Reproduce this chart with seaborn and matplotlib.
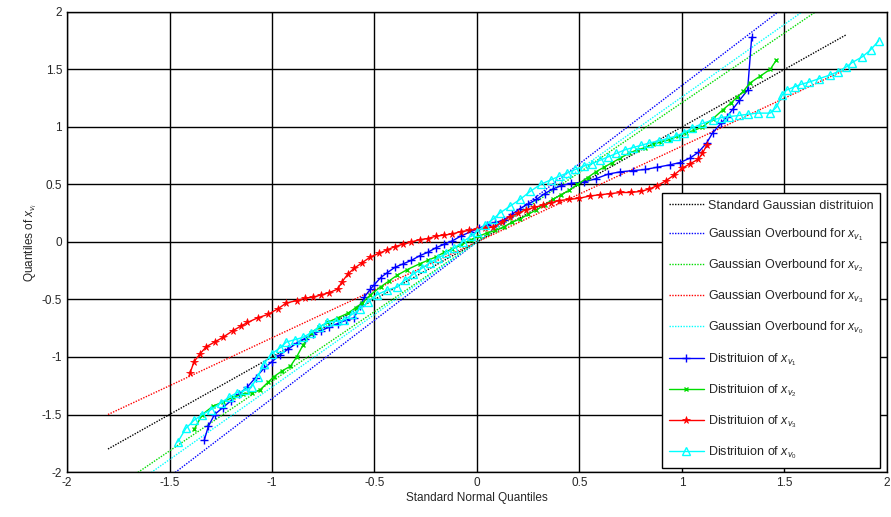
import numpy as np
import pandas as pd
import seaborn as sns
import matplotlib
matplotlib.use("Agg")
import matplotlib.pyplot as plt

## Data
# Standard Gaussian line and the Gaussian overbound lines (end points)
line_x = [-1.8, 1.8]
std_y = [-1.8, 1.8]
ob1_y = [-2.45, 2.45]
ob2_y = [-2.18, 2.18]
ob3_y = [-1.5, 1.5]
ob0_y = [-2.27, 2.27]

# Empirical distributions
d1_x = [-1.33, -1.31, -1.28, -1.24, -1.2, -1.16, -1.12, -1.08, -1.04, -1.0, -0.96, -0.92, -0.88,
        -0.84, -0.8, -0.76, -0.72, -0.68, -0.64, -0.6, -0.57, -0.55, -0.52, -0.5, -0.47, -0.44,
        -0.4, -0.36, -0.32, -0.28, -0.24, -0.2, -0.16, -0.12, -0.08, -0.03, 0.01, 0.05, 0.09,
        0.13, 0.17, 0.21, 0.25, 0.29, 0.33, 0.37, 0.41, 0.46, 0.52, 0.58, 0.64, 0.7, 0.76, 0.82,
        0.88, 0.94, 0.99, 1.04, 1.08, 1.12, 1.15, 1.19, 1.22, 1.25, 1.28, 1.32, 1.34]
d1_y = [-1.72, -1.6, -1.5, -1.44, -1.38, -1.32, -1.26, -1.18, -1.1, -1.04, -0.98, -0.93, -0.88,
        -0.84, -0.8, -0.77, -0.74, -0.71, -0.68, -0.66, -0.56, -0.48, -0.41, -0.37, -0.31, -0.27,
        -0.22, -0.19, -0.16, -0.12, -0.09, -0.05, -0.02, 0.01, 0.05, 0.09, 0.12, 0.15, 0.17,
        0.19, 0.24, 0.29, 0.33, 0.37, 0.42, 0.46, 0.49, 0.51, 0.52, 0.55, 0.59, 0.61, 0.62, 0.63,
        0.65, 0.67, 0.69, 0.73, 0.78, 0.86, 0.95, 1.03, 1.09, 1.16, 1.23, 1.32, 1.78]

d2_x = [-1.38, -1.34, -1.29, -1.24, -1.19, -1.14, -1.1, -1.06, -1.02, -0.99, -0.95, -0.91, -0.88,
        -0.85, -0.81, -0.77, -0.73, -0.68, -0.63, -0.59, -0.56, -0.52, -0.47, -0.43, -0.39, -0.34,
        -0.28, -0.24, -0.2, -0.16, -0.12, -0.08, -0.03, 0.01, 0.05, 0.09, 0.13, 0.17, 0.21, 0.25,
        0.29, 0.33, 0.37, 0.41, 0.45, 0.49, 0.54, 0.58, 0.62, 0.66, 0.7, 0.74, 0.78, 0.82, 0.86,
        0.9, 0.94, 0.98, 1.02, 1.06, 1.1, 1.15, 1.2, 1.24, 1.27, 1.3, 1.33, 1.38, 1.43, 1.46]
d2_y = [-1.63, -1.5, -1.43, -1.39, -1.35, -1.32, -1.31, -1.29, -1.22, -1.17, -1.12, -1.08, -1.0,
        -0.9, -0.79, -0.74, -0.7, -0.66, -0.62, -0.57, -0.53, -0.46, -0.39, -0.34, -0.29, -0.24,
        -0.19, -0.16, -0.13, -0.09, -0.06, -0.03, 0.02, 0.05, 0.08, 0.1, 0.13, 0.17, 0.2, 0.24,
        0.28, 0.32, 0.37, 0.41, 0.45, 0.5, 0.56, 0.61, 0.65, 0.69, 0.73, 0.77, 0.8, 0.82, 0.85,
        0.87, 0.89, 0.92, 0.95, 0.97, 1.0, 1.07, 1.15, 1.21, 1.26, 1.31, 1.38, 1.44, 1.5, 1.58]

d3_x = [-1.4, -1.38, -1.35, -1.32, -1.28, -1.24, -1.19, -1.15, -1.12, -1.07, -1.02, -0.97, -0.93,
        -0.88, -0.84, -0.8, -0.76, -0.72, -0.68, -0.66, -0.63, -0.6, -0.56, -0.52, -0.48, -0.44,
        -0.4, -0.36, -0.32, -0.28, -0.24, -0.2, -0.16, -0.12, -0.08, -0.04, 0.0, 0.04, 0.08, 0.12,
        0.16, 0.2, 0.24, 0.28, 0.32, 0.36, 0.4, 0.45, 0.5, 0.55, 0.6, 0.65, 0.7, 0.75, 0.8, 0.84,
        0.88, 0.92, 0.96, 1.0, 1.04, 1.08, 1.1, 1.12]
d3_y = [-1.14, -1.04, -0.97, -0.91, -0.87, -0.83, -0.77, -0.73, -0.7, -0.66, -0.63, -0.58, -0.53,
        -0.51, -0.49, -0.48, -0.46, -0.44, -0.41, -0.35, -0.28, -0.23, -0.18, -0.13, -0.1, -0.07,
        -0.04, -0.02, 0.0, 0.02, 0.03, 0.05, 0.06, 0.07, 0.09, 0.1, 0.11, 0.12, 0.13, 0.17,
        0.22, 0.25, 0.28, 0.3, 0.32, 0.34, 0.36, 0.37, 0.38, 0.4, 0.41, 0.42, 0.43, 0.43, 0.44, 0.46,
        0.49, 0.53, 0.58, 0.64, 0.68, 0.72, 0.77, 0.84]

d0_x = [-1.46, -1.42, -1.38, -1.34, -1.3, -1.25, -1.21, -1.17, -1.13, -1.1, -1.07, -1.04, -1.0,
        -0.96, -0.93, -0.89, -0.85, -0.81, -0.77, -0.73, -0.69, -0.65, -0.61, -0.57, -0.53, -0.49,
        -0.44, -0.39, -0.35, -0.31, -0.27, -0.23, -0.19, -0.15, -0.11, -0.07, -0.03, 0.0, 0.04,
        0.08, 0.11, 0.16, 0.21, 0.26, 0.31, 0.36, 0.4, 0.44, 0.48, 0.52, 0.56, 0.6, 0.64, 0.68,
        0.72, 0.76, 0.8, 0.84, 0.89, 0.93, 0.97, 1.01, 1.05, 1.1, 1.15, 1.19, 1.23, 1.28, 1.32,
        1.37, 1.43, 1.46, 1.49, 1.51, 1.55, 1.58, 1.62, 1.67, 1.72, 1.76, 1.8, 1.83, 1.88, 1.92, 1.96]
d0_y = [-1.74, -1.62, -1.55, -1.5, -1.46, -1.4, -1.35, -1.31, -1.29, -1.26, -1.17, -1.06, -0.97,
        -0.92, -0.87, -0.85, -0.83, -0.79, -0.74, -0.7, -0.69, -0.68, -0.63, -0.58, -0.52, -0.46,
        -0.42, -0.39, -0.33, -0.28, -0.23, -0.18, -0.14, -0.1, -0.05, 0.0, 0.05, 0.09, 0.15,
        0.2, 0.25, 0.31, 0.37, 0.44, 0.5, 0.54, 0.57, 0.6, 0.63, 0.66, 0.68, 0.71, 0.74, 0.77,
        0.8, 0.82, 0.84, 0.86, 0.88, 0.9, 0.92, 0.95, 0.99, 1.03, 1.06, 1.08, 1.09, 1.1, 1.11,
        1.12, 1.12, 1.17, 1.28, 1.32, 1.35, 1.37, 1.39, 1.42, 1.45, 1.48, 1.52, 1.56, 1.61, 1.67, 1.75]

## Plot
sns.set_style("white")
plt.rcParams['font.family'] = ['Liberation Sans', 'DejaVu Sans']
plt.rcParams['mathtext.fontset'] = 'custom'
plt.rcParams['mathtext.it'] = 'Liberation Sans:italic'
plt.rcParams['mathtext.rm'] = 'Liberation Sans'

fig = plt.figure(figsize=(8.91, 5.17), dpi=100)
ax = fig.add_axes([0.0752, 0.087, 0.9203, 0.89])

ls = (0, (1, 1))
green = '#00dd00'
sns.lineplot(x=line_x, y=std_y, color='black', linestyle=ls, lw=1,
             label='Standard Gaussian distrituion', ax=ax)
sns.lineplot(x=line_x, y=ob1_y, color='blue', linestyle=ls, lw=1,
             label=r'Gaussian Overbound for $x_{v_1}$', ax=ax)
sns.lineplot(x=line_x, y=ob2_y, color=green, linestyle=ls, lw=1,
             label=r'Gaussian Overbound for $x_{v_2}$', ax=ax)
sns.lineplot(x=line_x, y=ob3_y, color='red', linestyle=ls, lw=1,
             label=r'Gaussian Overbound for $x_{v_3}$', ax=ax)
sns.lineplot(x=line_x, y=ob0_y, color='cyan', linestyle=ls, lw=1,
             label=r'Gaussian Overbound for $x_{v_0}$', ax=ax)

sns.lineplot(x=d1_x, y=d1_y, sort=False, estimator=None, color='blue', lw=1, marker='+',
             markersize=6, mec='blue', mew=1, label=r'Distrituion of $x_{v_1}$', ax=ax)
sns.lineplot(x=d2_x, y=d2_y, sort=False, estimator=None, color=green, lw=1, marker='x',
             markersize=3.5, mec=green, mew=1, label=r'Distrituion of $x_{v_2}$', ax=ax)
sns.lineplot(x=d3_x, y=d3_y, sort=False, estimator=None, color='red', lw=1, marker='*',
             markersize=5.5, mec='red', mew=0.5, label=r'Distrituion of $x_{v_3}$', ax=ax)
sns.lineplot(x=d0_x, y=d0_y, sort=False, estimator=None, color='cyan', lw=1, marker='^',
             markersize=6, mfc='none', mec='cyan', mew=1, label=r'Distrituion of $x_{v_0}$', ax=ax)

ax.set_xlim(-2, 2)
ax.set_ylim(-2, 2)
ax.set_xticks(np.arange(-2, 2.01, 0.5))
ax.set_yticks(np.arange(-2, 2.01, 0.5))
ax.set_xticklabels(['-2', '-1.5', '-1', '-0.5', '0', '0.5', '1', '1.5', '2'])
ax.set_yticklabels(['-2', '-1.5', '-1', '-0.5', '0', '0.5', '1', '1.5', '2'])
ax.grid(True, color='black', lw=1, ls='-')
ax.tick_params(direction='in', labelsize=8.5, length=4, color='black')
for s in ax.spines.values():
    s.set_color('black')
    s.set_linewidth(1)

ax.set_xlabel('Standard Normal Quantiles', fontsize=8.5, labelpad=2)
ax.set_ylabel(r'Quantiles of $x_{v_i}$', fontsize=8.5, labelpad=2)

leg = ax.legend(loc='lower right', bbox_to_anchor=(0.9915, 0.0087), borderaxespad=0,
                fontsize=9, frameon=True, fancybox=False, edgecolor='black', framealpha=1,
                labelspacing=1.17, handlelength=2.8, handletextpad=0.3, borderpad=0.55)
leg.get_frame().set_linewidth(1)

fig.savefig('out.png', dpi=100)
